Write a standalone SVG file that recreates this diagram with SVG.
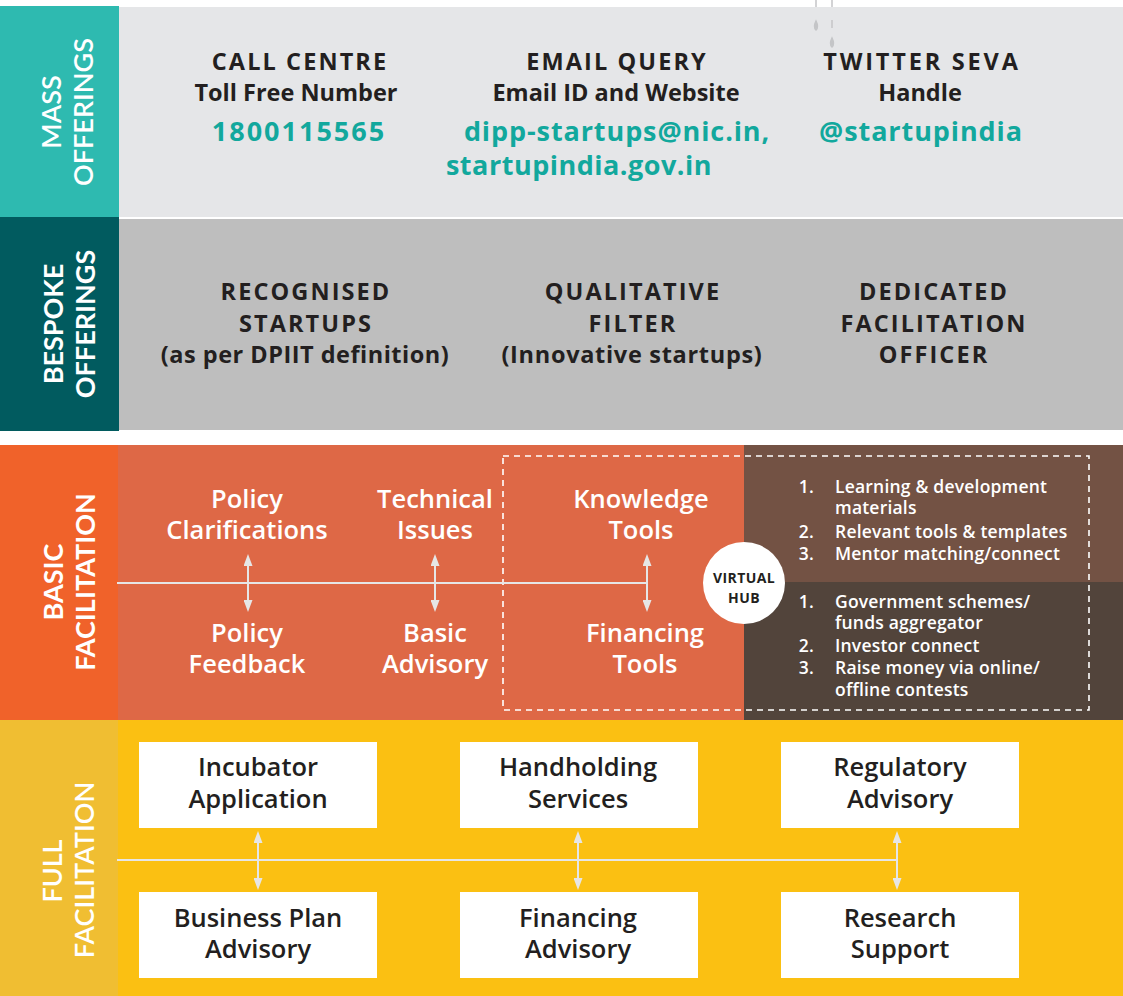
<svg xmlns="http://www.w3.org/2000/svg" width="1123" height="996" viewBox="0 0 1123 996">
<defs>
<style>
.t{font-family:"Open Sans","Liberation Sans",sans-serif;text-anchor:middle}
.side{font-family:"Lato","Liberation Sans",sans-serif;font-size:27px;fill:#ffffff;text-anchor:middle;font-weight:700}
.dk{fill:#231f20;font-weight:700;font-size:23.5px}
.uc{letter-spacing:2.1px}
.tl{fill:#12a89d;font-weight:700;font-size:27px;letter-spacing:0.9px}
.wh{fill:#ffffff;font-weight:600;font-size:25.5px}
.li{font-family:"Open Sans","Liberation Sans",sans-serif;fill:#ffffff;font-weight:600;font-size:17.5px;letter-spacing:0.2px}
.bx{fill:#231f20;font-weight:600;font-size:25.5px}
.conn{stroke:#e6e6e6;stroke-width:2;fill:none}
</style>
<marker id="ah" viewBox="0 0 12 9" refX="6" refY="4.5" markerWidth="12" markerHeight="9" markerUnits="userSpaceOnUse" orient="auto-start-reverse">
<path d="M0,0 L12,4.5 L0,9 Z" fill="#e6e6e6"/>
</marker>
</defs>

<rect width="1123" height="996" fill="#ffffff"/>

<!-- top decorations -->
<g id="deco" stroke="#c4c5c7" stroke-width="1.5" fill="#c4c5c7">
<line x1="816" y1="0" x2="816" y2="7"/>
<line x1="832" y1="0" x2="832" y2="7"/>
</g>

<!-- Mass offerings -->
<g id="mass">
<rect x="0" y="6" width="119" height="211" fill="#2ebab0"/>
<rect x="119" y="7" width="1004" height="210" fill="#e5e6e8"/>
<g fill="#c4c5c7" stroke="#c4c5c7" stroke-width="1.5">
<path d="M816,21 Q819,27 816,30 Q813,27 816,21 Z"/>
<line x1="832" y1="20" x2="832" y2="28"/>
<path d="M832,38 Q835,44 832,47 Q829,44 832,38 Z"/>
</g>
<text class="side" transform="translate(61,112) rotate(-90)" style="font-weight:600">MASS</text>
<text class="side" transform="translate(93,112) rotate(-90)" style="font-weight:600">OFFERINGS</text>
<text class="t dk uc" x="300" y="70">CALL CENTRE</text>
<text class="t dk" x="296" y="101">Toll Free Number</text>
<text class="t tl" x="299" y="141" style="letter-spacing:2px">1800115565</text>
<text class="t dk uc" x="617" y="70">EMAIL QUERY</text>
<text class="t dk" x="616" y="101">Email ID and Website</text>
<text class="t tl" x="617" y="141">dipp-startups@nic.in,</text>
<text class="t tl" x="579" y="175" style="letter-spacing:0.5px">startupindia.gov.in</text>
<text class="t dk uc" x="922" y="70" style="letter-spacing:2.8px">TWITTER SEVA</text>
<text class="t dk" x="920" y="101">Handle</text>
<text class="t tl" x="921" y="141">@startupindia</text>
</g>

<!-- Bespoke offerings -->
<g id="bespoke">
<rect x="0" y="217" width="119" height="214" fill="#015b5f"/>
<rect x="119" y="219" width="1004" height="211" fill="#bebebe"/>
<text class="side" transform="translate(63,324) rotate(-90)">BESPOKE</text>
<text class="side" transform="translate(95,324) rotate(-90)">OFFERINGS</text>
<text class="t dk uc" x="306" y="300">RECOGNISED</text>
<text class="t dk uc" x="306" y="332">STARTUPS</text>
<text class="t dk" x="305" y="363" style="letter-spacing:0.5px">(as per DPIIT definition)</text>
<text class="t dk uc" x="633" y="300">QUALITATIVE</text>
<text class="t dk uc" x="633" y="332">FILTER</text>
<text class="t dk" x="632" y="363" style="letter-spacing:0.7px">(Innovative startups)</text>
<text class="t dk uc" x="934" y="300">DEDICATED</text>
<text class="t dk uc" x="934" y="332">FACILITATION</text>
<text class="t dk uc" x="934" y="363">OFFICER</text>
</g>

<!-- Basic facilitation -->
<g id="basic">
<rect x="0" y="445" width="118" height="275" fill="#f0622a"/>
<rect x="118" y="445" width="626" height="275" fill="#de6846"/>
<rect x="744" y="445" width="379" height="137" fill="#735244"/>
<rect x="744" y="582" width="379" height="138" fill="#52443b"/>
<rect x="503" y="456" width="586" height="254" fill="none" stroke="#ffffff" stroke-width="1.6" stroke-dasharray="6 5"/>
<text class="side" transform="translate(63,582) rotate(-90)">BASIC</text>
<text class="side" transform="translate(95,582) rotate(-90)">FACILITATION</text>
</g>

<!-- Full facilitation -->
<g id="full">
<rect x="0" y="720" width="118" height="276" fill="#f0be32"/>
<rect x="118" y="720" width="1005" height="276" fill="#fbc012"/>
<text class="side" transform="translate(62,871) rotate(-90)" style="font-weight:600">FULL</text>
<text class="side" transform="translate(94,870) rotate(-90)" style="font-weight:600">FACILITATION</text>
</g>

<!-- connectors -->
<g id="connectors">
<line class="conn" x1="117" y1="583" x2="647" y2="583"/>
<line class="conn" x1="248" y1="560" x2="248" y2="606" marker-start="url(#ah)" marker-end="url(#ah)"/>
<line class="conn" x1="435" y1="560" x2="435" y2="606" marker-start="url(#ah)" marker-end="url(#ah)"/>
<line class="conn" x1="647" y1="560" x2="647" y2="606" marker-start="url(#ah)" marker-end="url(#ah)"/>
<line class="conn" x1="117" y1="860" x2="897" y2="860"/>
<line class="conn" x1="258" y1="837" x2="258" y2="884" marker-start="url(#ah)" marker-end="url(#ah)"/>
<line class="conn" x1="578" y1="837" x2="578" y2="884" marker-start="url(#ah)" marker-end="url(#ah)"/>
<line class="conn" x1="897" y1="837" x2="897" y2="884" marker-start="url(#ah)" marker-end="url(#ah)"/>
</g>

<!-- basic nodes -->
<g id="policy-clarifications"><text class="t wh" x="247" y="508">Policy</text><text class="t wh" x="247" y="539">Clarifications</text></g>
<g id="technical-issues"><text class="t wh" x="435" y="508">Technical</text><text class="t wh" x="435" y="539">Issues</text></g>
<g id="knowledge-tools"><text class="t wh" x="641" y="508">Knowledge</text><text class="t wh" x="641" y="539">Tools</text></g>
<g id="policy-feedback"><text class="t wh" x="247" y="642">Policy</text><text class="t wh" x="247" y="673">Feedback</text></g>
<g id="basic-advisory"><text class="t wh" x="435" y="642">Basic</text><text class="t wh" x="435" y="673">Advisory</text></g>
<g id="financing-tools"><text class="t wh" x="645" y="642">Financing</text><text class="t wh" x="645" y="673">Tools</text></g>

<g id="virtual-hub">
<circle cx="744" cy="583" r="41" fill="#ffffff"/>
<text class="t" x="744" y="583" style="font-size:14px;font-weight:700;fill:#231f20;letter-spacing:0.4px">VIRTUAL</text>
<text class="t" x="744" y="603" style="font-size:14px;font-weight:700;fill:#231f20;letter-spacing:0.4px">HUB</text>
</g>

<g id="knowledge-list">
<text class="li" x="814" y="493" text-anchor="end">1.</text>
<text class="li" x="835" y="493">Learning &amp; development</text>
<text class="li" x="835" y="514">materials</text>
<text class="li" x="814" y="538" text-anchor="end">2.</text>
<text class="li" x="835" y="538">Relevant tools &amp; templates</text>
<text class="li" x="814" y="560" text-anchor="end">3.</text>
<text class="li" x="835" y="560">Mentor matching/connect</text>
</g>
<g id="financing-list">
<text class="li" x="814" y="608" text-anchor="end">1.</text>
<text class="li" x="835" y="608">Government schemes/</text>
<text class="li" x="835" y="629">funds aggregator</text>
<text class="li" x="814" y="652" text-anchor="end">2.</text>
<text class="li" x="835" y="652">Investor connect</text>
<text class="li" x="814" y="674" text-anchor="end">3.</text>
<text class="li" x="835" y="674">Raise money via online/</text>
<text class="li" x="835" y="696">offline contests</text>
</g>

<!-- full nodes -->
<g id="incubator-application"><rect x="139" y="742" width="238" height="86" fill="#ffffff"/><text class="t bx" x="258" y="776">Incubator</text><text class="t bx" x="258" y="808">Application</text></g>
<g id="handholding-services"><rect x="460" y="742" width="238" height="86" fill="#ffffff"/><text class="t bx" x="578" y="776">Handholding</text><text class="t bx" x="578" y="808">Services</text></g>
<g id="regulatory-advisory"><rect x="781" y="742" width="238" height="86" fill="#ffffff"/><text class="t bx" x="900" y="776">Regulatory</text><text class="t bx" x="900" y="808">Advisory</text></g>
<g id="business-plan-advisory"><rect x="139" y="892" width="238" height="86" fill="#ffffff"/><text class="t bx" x="258" y="927">Business Plan</text><text class="t bx" x="258" y="958">Advisory</text></g>
<g id="financing-advisory"><rect x="460" y="892" width="238" height="86" fill="#ffffff"/><text class="t bx" x="578" y="927">Financing</text><text class="t bx" x="578" y="958">Advisory</text></g>
<g id="research-support"><rect x="781" y="892" width="238" height="86" fill="#ffffff"/><text class="t bx" x="900" y="927">Research</text><text class="t bx" x="900" y="958">Support</text></g>
</svg>
